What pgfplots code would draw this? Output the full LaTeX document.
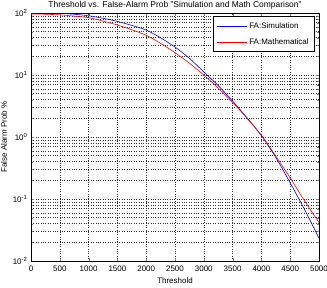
\documentclass[border=0pt]{standalone}
\usepackage{pgfplots}
\pgfplotsset{compat=1.18}
\usepackage{fontspec}
\setmainfont{Liberation Sans}
\definecolor{simblue}{RGB}{0,0,255}
\definecolor{mathred}{RGB}{255,0,0}

\begin{document}
\begin{tikzpicture}
\begin{axis}[
  scale only axis,
  width=288bp, height=248bp,
  xmin=0, xmax=5000,
  ymode=log, ymin=0.01, ymax=100,
  xtick={0,500,...,5000},
  xticklabels={0,500,1000,1500,2000,2500,3000,3500,4000,4500,5000},
  ytick={0.01,0.1,1,10,100},
  yticklabels={10\textsuperscript{-2},10\textsuperscript{-1},10\textsuperscript{0},10\textsuperscript{1},10\textsuperscript{2}},
  tick align=inside,
  major tick length=3bp, minor tick length=2bp,
  tick label style={font=\fontsize{8}{9}\selectfont},
  xticklabel style={yshift=-1bp},
  grid=both,
  major grid style={black!80, dotted, line width=0.5pt},
  minor grid style={black!80, dotted, line width=0.5pt},
  axis line style={black, line width=0.6pt},
  xlabel={Threshold},
  ylabel={False Alarm Prob \%},
  label style={font=\fontsize{8}{9}\selectfont},
  xlabel style={yshift=0bp},
  ylabel style={yshift=-1bp},
  title={Threshold vs. False-Alarm Prob "Simulation and Math Comparison"},
  title style={font=\fontsize{8.5}{9}\selectfont, yshift=-6bp},
  legend style={at={(0.986,0.988)}, anchor=north east, draw=black, fill=white,
    font=\fontsize{8}{10}\selectfont, row sep=5bp, inner xsep=4bp, inner ysep=4bp,
    line width=0.6pt},
  legend cell align=left,
  legend image code/.code={\draw[#1, line width=0.5pt] (0bp,0bp) -- (30bp,0bp);},
  every axis plot/.append style={line width=0.6pt, mark=none, smooth},
]
% simulated false-alarm probability (percent)
\addplot[simblue] coordinates {
  (0,100) (250,100) (500,98.9) (750,95.5) (1000,90.2) (1250,82.2)
  (1500,73.3) (1750,63.1) (2000,53.1) (2250,39.8) (2500,28.2)
  (2750,18.6) (3000,11.2) (3250,6.76) (3500,3.80) (3750,2.04)
  (4000,1.05) (4250,0.468) (4500,0.182) (4750,0.0676) (5000,0.0234)
};
\addlegendentry{FA:Simulation}
% analytical false-alarm probability (percent)
\addplot[mathred] coordinates {
  (0,96.4) (250,95.5) (500,93.3) (750,89.1) (1000,84.1) (1250,74.1)
  (1500,64.0) (1750,53.7) (2000,43.7) (2250,32.4) (2500,22.9)
  (2750,15.5) (3000,10.0) (3250,6.17) (3500,3.63) (3750,2.00)
  (4000,1.07) (4250,0.490) (4500,0.219) (4750,0.0933) (5000,0.0417)
};
\addlegendentry{FA:Mathematical}
\end{axis}
\pgfresetboundingbox
\path[use as bounding box] (current axis.south west) ++(-31bp,-26bp)
  rectangle ([xshift=8bp,yshift=13bp]current axis.north east);
\end{tikzpicture}
\end{document}
